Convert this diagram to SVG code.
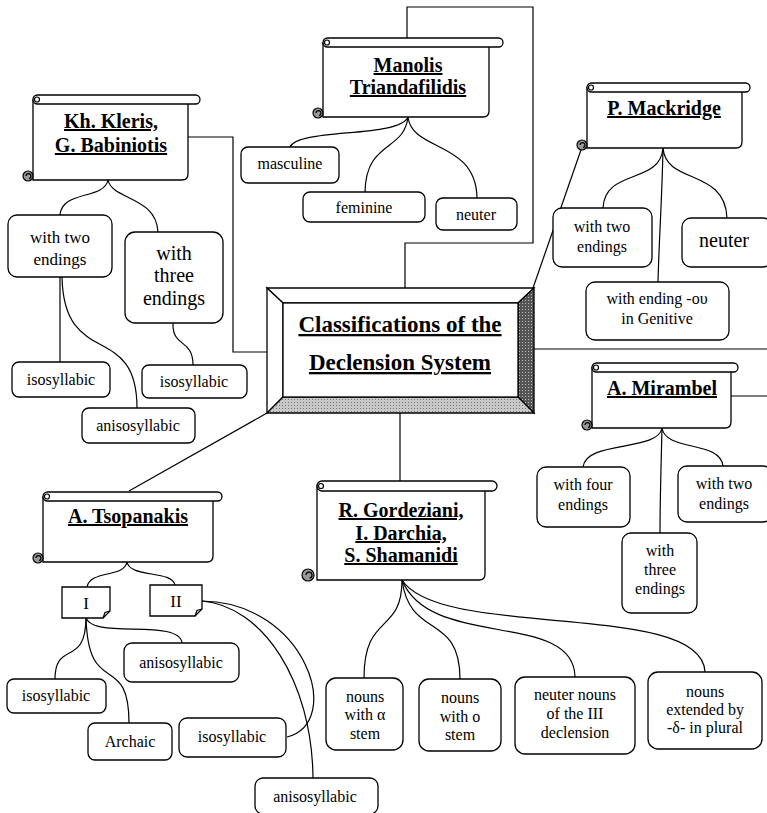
<svg xmlns="http://www.w3.org/2000/svg" width="767" height="813" viewBox="0 0 767 813">
<defs>
<style>
.bx{fill:#fff;stroke:#000;stroke-width:1.3}
.ln{fill:none;stroke:#000;stroke-width:1.2}
.roll{fill:#fff;stroke:#000;stroke-width:1.3}
.curl{fill:#999;stroke:#000;stroke-width:1.2}
.h{font-family:"Liberation Serif","Times New Roman",serif;font-weight:bold;font-size:20px;text-decoration:underline;text-anchor:middle;fill:#000}
.t{font-family:"Liberation Serif","Times New Roman",serif;font-size:16px;text-anchor:middle;fill:#000}
.big{font-size:20px}
.mid{font-size:17px}
</style>
<pattern id="dots" width="3" height="3" patternUnits="userSpaceOnUse">
<rect width="3" height="3" fill="#c8c8c8"/><rect width="1" height="1" fill="#777"/>
</pattern>
<pattern id="dark" width="3" height="3" patternUnits="userSpaceOnUse">
<rect width="3" height="3" fill="#555"/><rect width="1" height="1" fill="#bbb"/>
</pattern>
</defs>
<rect width="767" height="813" fill="#fff"/>

<g id="connectors">
<polyline class="ln" points="405,288 405,243 533,243 533,7 407,7 407,38"/>
<polyline class="ln" points="267,352 233,352 233,137 188,137"/>
<line class="ln" x1="534" y1="349" x2="767" y2="349"/>
<line class="ln" x1="731" y1="396" x2="767" y2="396"/>
<line class="ln" x1="533" y1="288" x2="582" y2="147"/>
<line class="ln" x1="267" y1="413" x2="129" y2="491"/>
<line class="ln" x1="400" y1="413" x2="400" y2="481"/>

<path class="ln" d="M108,180 C104,200 62,190 60,215"/>
<path class="ln" d="M108,180 C112,200 156,196 158,232"/>
<line class="ln" x1="60" y1="277" x2="60" y2="362"/>
<path class="ln" d="M62,277 C64,370 137,320 137,408"/>
<path class="ln" d="M173,323 C172,348 193,338 193,365"/>

<path class="ln" d="M408,117 C400,138 298,128 290,147"/>
<path class="ln" d="M408,117 C404,152 366,140 365,192"/>
<path class="ln" d="M408,117 C412,152 476,140 477,198"/>

<path class="ln" d="M663,148 C660,185 605,168 603,208"/>
<path class="ln" d="M663,148 C666,185 725,168 727,218"/>
<path class="ln" d="M663,148 C662,200 659,240 658,282"/>

<path class="ln" d="M662,428 C658,452 586,440 583,467"/>
<path class="ln" d="M662,428 C666,452 720,440 723,466"/>
<path class="ln" d="M662,428 C661,470 660,500 660,533"/>

<path class="ln" d="M127,562 C124,578 90,570 87,587"/>
<path class="ln" d="M127,562 C130,578 172,570 175,585"/>
<path class="ln" d="M86,617 C90,640 180,618 182,643"/>
<path class="ln" d="M86,617 C86,668 55,640 55,679"/>
<path class="ln" d="M86,617 C88,700 129,650 129,723"/>
<path class="ln" d="M202,601 C305,602 345,722 287,737"/>
<path class="ln" d="M202,601 C262,606 312,680 313,778"/>

<path class="ln" d="M402,580 C402,635 364,612 364,678"/>
<path class="ln" d="M402,580 C410,640 460,612 460,679"/>
<path class="ln" d="M402,580 C430,650 574,610 575,677"/>
<path class="ln" d="M402,580 C440,640 702,600 705,672"/>
</g>

<g id="central">
<polygon points="267,288 534,288 518,303 283,303" fill="#fff" stroke="#000" stroke-width="1.3"/>
<polygon points="267,288 283,303 283,397 267,413" fill="#fff" stroke="#000" stroke-width="1.3"/>
<polygon points="534,288 534,413 518,397 518,303" fill="url(#dark)" stroke="#000" stroke-width="1.3"/>
<polygon points="267,413 534,413 518,397 283,397" fill="url(#dots)" stroke="#000" stroke-width="1.3"/>
<rect x="283" y="303" width="235" height="94" fill="#fff" stroke="#000" stroke-width="1.3"/>
<text class="h" style="font-size:23px" x="400" y="332">Classifications of the</text>
<text class="h" style="font-size:23px" x="400" y="370">Declension System</text>
</g>

<g id="kleris">
<path class="bx" d="M33,99 V180 H182 Q188,180 188,174 V104"/>
<rect class="roll" x="33" y="95" width="167" height="9" rx="4.5"/>
<circle class="ln" cx="37" cy="99.5" r="2.5"/>
<circle class="curl" cx="28" cy="176" r="5"/>
<path class="ln" d="M26,176 a2.5,2.5 0 1 1 3,2.5"/>
<text class="h" x="111" y="128">Kh. Kleris,</text>
<text class="h" x="111" y="152">G. Babiniotis</text>
</g>

<g id="k-two">
<rect class="bx" x="8" y="215" width="104" height="62" rx="9"/>
<text class="t mid" x="60" y="243">with two</text>
<text class="t mid" x="60" y="265">endings</text>
</g>
<g id="k-three">
<rect class="bx" x="125" y="232" width="98" height="91" rx="10"/>
<text class="t big" x="174" y="260">with</text>
<text class="t big" x="174" y="282">three</text>
<text class="t big" x="174" y="305">endings</text>
</g>
<g id="k-iso1">
<rect class="bx" x="12" y="362" width="98" height="35" rx="7"/>
<text class="t" x="61" y="385">isosyllabic</text>
</g>
<g id="k-iso2">
<rect class="bx" x="142" y="365" width="105" height="33" rx="7"/>
<text class="t" x="194" y="387">isosyllabic</text>
</g>
<g id="k-aniso">
<rect class="bx" x="82" y="408" width="113" height="35" rx="7"/>
<text class="t" x="138" y="431">anisosyllabic</text>
</g>

<g id="manolis">
<path class="bx" d="M323,42 V117 H483 Q489,117 489,111 V47"/>
<rect class="roll" x="323" y="38" width="180" height="9" rx="4.5"/>
<circle class="ln" cx="327" cy="42.5" r="2.5"/>
<circle class="curl" cx="318" cy="113" r="5"/>
<path class="ln" d="M316,113 a2.5,2.5 0 1 1 3,2.5"/>
<text class="h" x="408" y="72">Manolis</text>
<text class="h" x="408" y="94">Triandafilidis</text>
</g>
<g id="m-masc">
<rect class="bx" x="241" y="147" width="98" height="36" rx="7"/>
<text class="t" x="290" y="169">masculine</text>
</g>
<g id="m-fem">
<rect class="bx" x="303" y="192" width="122" height="30" rx="7"/>
<text class="t" x="364" y="213">feminine</text>
</g>
<g id="m-neut">
<rect class="bx" x="436" y="198" width="81" height="32" rx="7"/>
<text class="t" x="476" y="220">neuter</text>
</g>

<g id="mackridge">
<path class="bx" d="M587,87 V148 H736 Q742,148 742,142 V92"/>
<rect class="roll" x="587" y="83" width="163" height="9" rx="4.5"/>
<circle class="ln" cx="591" cy="87.5" r="2.5"/>
<circle class="curl" cx="582" cy="145" r="5"/>
<path class="ln" d="M580,145 a2.5,2.5 0 1 1 3,2.5"/>
<text class="h" x="664" y="115">P. Mackridge</text>
</g>
<g id="p-two">
<rect class="bx" x="553" y="208" width="99" height="59" rx="9"/>
<text class="t" x="602" y="232">with two</text>
<text class="t" x="602" y="252">endings</text>
</g>
<g id="p-neut">
<rect class="bx" x="682" y="218" width="90" height="49" rx="9"/>
<text class="t big" x="724" y="247">neuter</text>
</g>
<g id="p-gen">
<rect class="bx" x="586" y="282" width="143" height="58" rx="9"/>
<text class="t" x="657" y="304">with ending -ου</text>
<text class="t" x="657" y="324">in Genitive</text>
</g>

<g id="mirambel">
<path class="bx" d="M592,367 V428 H725 Q731,428 731,422 V372"/>
<rect class="roll" x="592" y="363" width="146" height="9" rx="4.5"/>
<circle class="ln" cx="596" cy="367.5" r="2.5"/>
<circle class="curl" cx="587" cy="425" r="5"/>
<path class="ln" d="M585,425 a2.5,2.5 0 1 1 3,2.5"/>
<text class="h" x="662" y="395">A. Mirambel</text>
</g>
<g id="r-four">
<rect class="bx" x="537" y="467" width="93" height="60" rx="9"/>
<text class="t" x="583" y="490">with four</text>
<text class="t" x="583" y="510">endings</text>
</g>
<g id="r-two">
<rect class="bx" x="678" y="466" width="94" height="56" rx="9"/>
<text class="t" x="724" y="489">with two</text>
<text class="t" x="724" y="509">endings</text>
</g>
<g id="r-three">
<rect class="bx" x="622" y="533" width="75" height="80" rx="9"/>
<text class="t" x="660" y="556">with</text>
<text class="t" x="660" y="575">three</text>
<text class="t" x="660" y="594">endings</text>
</g>

<g id="tsopanakis">
<path class="bx" d="M43,496 V562 H207 Q213,562 213,556 V501"/>
<rect class="roll" x="43" y="492" width="179" height="9" rx="4.5"/>
<circle class="ln" cx="47" cy="496.5" r="2.5"/>
<circle class="curl" cx="38" cy="558" r="5"/>
<path class="ln" d="M36,558 a2.5,2.5 0 1 1 3,2.5"/>
<text class="h" x="128" y="523">A. Tsopanakis</text>
</g>
<g id="t-I">
<path class="bx" d="M62,587 H110 V611 L103,618 H62 Z"/>
<path class="ln" d="M110,611 L105,612.5 L103,618"/>
<text class="t mid" x="86" y="609">I</text>
</g>
<g id="t-II">
<path class="bx" d="M150,585 H202 V609 L195,616 H150 Z"/>
<path class="ln" d="M202,609 L197,610.5 L195,616"/>
<text class="t mid" x="176" y="607">II</text>
</g>
<g id="t-aniso1">
<rect class="bx" x="124" y="643" width="115" height="39" rx="8"/>
<text class="t" x="181" y="668">anisosyllabic</text>
</g>
<g id="t-iso1">
<rect class="bx" x="7" y="679" width="99" height="34" rx="7"/>
<text class="t" x="56" y="701">isosyllabic</text>
</g>
<g id="t-arch">
<rect class="bx" x="88" y="723" width="84" height="37" rx="7"/>
<text class="t" x="130" y="747">Archaic</text>
</g>
<g id="t-iso2">
<rect class="bx" x="179" y="718" width="107" height="39" rx="8"/>
<text class="t" x="232" y="742">isosyllabic</text>
</g>
<g id="t-aniso2">
<rect class="bx" x="255" y="778" width="123" height="36" rx="8"/>
<text class="t" x="315" y="802">anisosyllabic</text>
</g>

<g id="gordeziani">
<path class="bx" d="M317,485 V580 H479 Q485,580 485,574 V491"/>
<rect class="roll" x="317" y="481" width="180" height="10" rx="5"/>
<circle class="ln" cx="321" cy="486" r="2.5"/>
<circle class="curl" cx="308" cy="575" r="6"/>
<path class="ln" d="M306,575 a3,3 0 1 1 3.5,3"/>
<text class="h" x="401" y="517">R. Gordeziani,</text>
<text class="h" x="401" y="540">I. Darchia,</text>
<text class="h" x="401" y="562">S. Shamanidi</text>
</g>
<g id="g-alpha">
<rect class="bx" x="326" y="678" width="77" height="72" rx="10"/>
<text class="t" x="365" y="702">nouns</text>
<text class="t" x="365" y="720">with α</text>
<text class="t" x="365" y="739">stem</text>
</g>
<g id="g-omicron">
<rect class="bx" x="419" y="679" width="82" height="72" rx="10"/>
<text class="t" x="460" y="703">nouns</text>
<text class="t" x="460" y="722">with ο</text>
<text class="t" x="460" y="740">stem</text>
</g>
<g id="g-neuter">
<rect class="bx" x="515" y="677" width="120" height="77" rx="10"/>
<text class="t" x="575" y="700">neuter nouns</text>
<text class="t" x="575" y="719">of the III</text>
<text class="t" x="575" y="738">declension</text>
</g>
<g id="g-delta">
<rect class="bx" x="648" y="672" width="114" height="77" rx="10"/>
<text class="t" x="705" y="697">nouns</text>
<text class="t" x="705" y="715">extended by</text>
<text class="t" x="705" y="733">-δ- in plural</text>
</g>
</svg>
